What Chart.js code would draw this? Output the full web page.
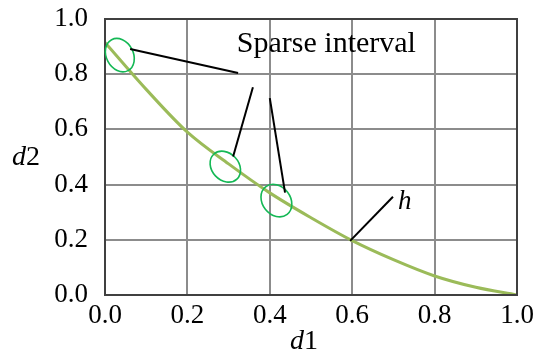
<!DOCTYPE html>
<html>
<head>
<meta charset="utf-8">
<script src="https://cdn.jsdelivr.net/npm/chart.js@4"></script>
<style>
  html, body { margin: 0; padding: 0; background: #ffffff; }
  #wrap { width: 538px; height: 363px; }
</style>
</head>
<body>
<div id="wrap"><canvas id="c" width="538" height="363"></canvas></div>
<script>
// ---- data ----
const d1Values = [0, 0.1, 0.2, 0.3, 0.4, 0.5, 0.6, 0.7, 0.8, 0.9, 1.0];
const hValues  = [0.915, 0.745, 0.59, 0.475, 0.37, 0.28, 0.197, 0.128, 0.069, 0.028, 0];
const tickValues = [0, 0.2, 0.4, 0.6, 0.8, 1.0];
const sparseCentersX = [0.036, 0.292, 0.416];
const sparseCentersY = [0.869, 0.465, 0.342];
const labelSparse = "Sparse interval";
const labelCurve = "h";
const xTitle = ["d", "1"];
const yTitle = ["d", "2"];

// annotation geometry (data coordinates)
const ellipseShape = [ {a: 17.5, b: 13.5, rot: 62}, {a: 17, b: 13.5, rot: 47}, {a: 17.5, b: 14, rot: 52} ];
const leaderLines = [
  [[0.061, 0.891], [0.323, 0.804]],
  [[0.359, 0.753], [0.311, 0.502]],
  [[0.400, 0.713], [0.437, 0.371]]
];
const hLine = [[0.595, 0.196], [0.699, 0.356]];
const sparseTextPos = [0.320, 0.880];
const hTextPos = [0.711, 0.313];

const serif = "'Liberation Serif', 'Times New Roman', serif";

const overlay = {
  id: 'overlay',
  afterDatasetsDraw(chart) {
    const ctx = chart.ctx, xs = chart.scales.x, ys = chart.scales.y;
    const px = v => xs.getPixelForValue(v), py = v => ys.getPixelForValue(v);
    const ca = chart.chartArea;
    ctx.save();
    // frame
    ctx.strokeStyle = '#404040';
    ctx.lineWidth = 2;
    ctx.strokeRect(ca.left, ca.top, ca.right - ca.left, ca.bottom - ca.top);
    // ellipses
    ctx.strokeStyle = '#14b855';
    ctx.lineWidth = 1.6;
    sparseCentersX.forEach((cx, i) => {
      const s = ellipseShape[i];
      ctx.beginPath();
      ctx.ellipse(px(cx), py(sparseCentersY[i]), s.a, s.b, s.rot * Math.PI / 180, 0, Math.PI * 2);
      ctx.stroke();
    });
    // leader lines
    ctx.strokeStyle = '#000000';
    ctx.lineWidth = 2;
    leaderLines.concat([hLine]).forEach(l => {
      ctx.beginPath();
      ctx.moveTo(px(l[0][0]), py(l[0][1]));
      ctx.lineTo(px(l[1][0]), py(l[1][1]));
      ctx.stroke();
    });
    // texts
    ctx.fillStyle = '#000000';
    ctx.textBaseline = 'alphabetic';
    ctx.textAlign = 'left';
    ctx.font = '30px ' + serif;
    ctx.fillText(labelSparse, px(sparseTextPos[0]), py(sparseTextPos[1]));
    ctx.font = 'italic 27px ' + serif;
    ctx.fillText(labelCurve, px(hTextPos[0]), py(hTextPos[1]));
    // axis titles
    const drawTitle = (parts, x, y) => {
      ctx.font = 'italic 28px ' + serif;
      ctx.fillText(parts[0], x, y);
      const w = ctx.measureText(parts[0]).width;
      ctx.font = '28px ' + serif;
      ctx.fillText(parts[1], x + w, y);
    };
    ctx.textBaseline = 'middle';
    drawTitle(yTitle, 12, 158);
    drawTitle(xTitle, 290, 342);
    ctx.restore();
  }
};

new Chart(document.getElementById('c'), {
  type: 'line',
  data: {
    datasets: [{
      label: labelCurve,
      data: d1Values.map((x, i) => ({x: x, y: hValues[i]})),
      borderColor: '#9bbb59',
      borderWidth: 3,
      pointRadius: 0,
      fill: false,
      cubicInterpolationMode: 'monotone'
    }]
  },
  options: {
    responsive: false,
    animation: false,
    devicePixelRatio: 1,
    layout: { padding: { top: 19, right: 21, left: 0, bottom: 0 } },
    plugins: { legend: { display: false }, tooltip: { enabled: false } },
    scales: {
      x: {
        type: 'linear', min: 0, max: 1,
        afterFit(s) { s.height = 68; s.paddingLeft = 0; s.paddingRight = 0; },
        afterBuildTicks(s) { s.ticks = tickValues.map(v => ({value: v})); },
        grid: { color: '#8c8c8c', lineWidth: 2, drawTicks: false },
        border: { display: false },
        ticks: { padding: 5, color: '#000', font: { family: serif, size: 27 },
                 maxRotation: 0, autoSkip: false, callback: v => v.toFixed(1) }
      },
      y: {
        type: 'linear', min: 0, max: 1,
        afterFit(s) { s.width = 105; s.paddingTop = 0; s.paddingBottom = 0; },
        afterBuildTicks(s) { s.ticks = tickValues.map(v => ({value: v})); },
        grid: { color: '#8c8c8c', lineWidth: 2, drawTicks: false },
        border: { display: false },
        ticks: { padding: 17, color: '#000', font: { family: serif, size: 27 },
                 autoSkip: false, callback: v => v.toFixed(1) }
      }
    }
  },
  plugins: [overlay]
});
</script>
</body>
</html>
